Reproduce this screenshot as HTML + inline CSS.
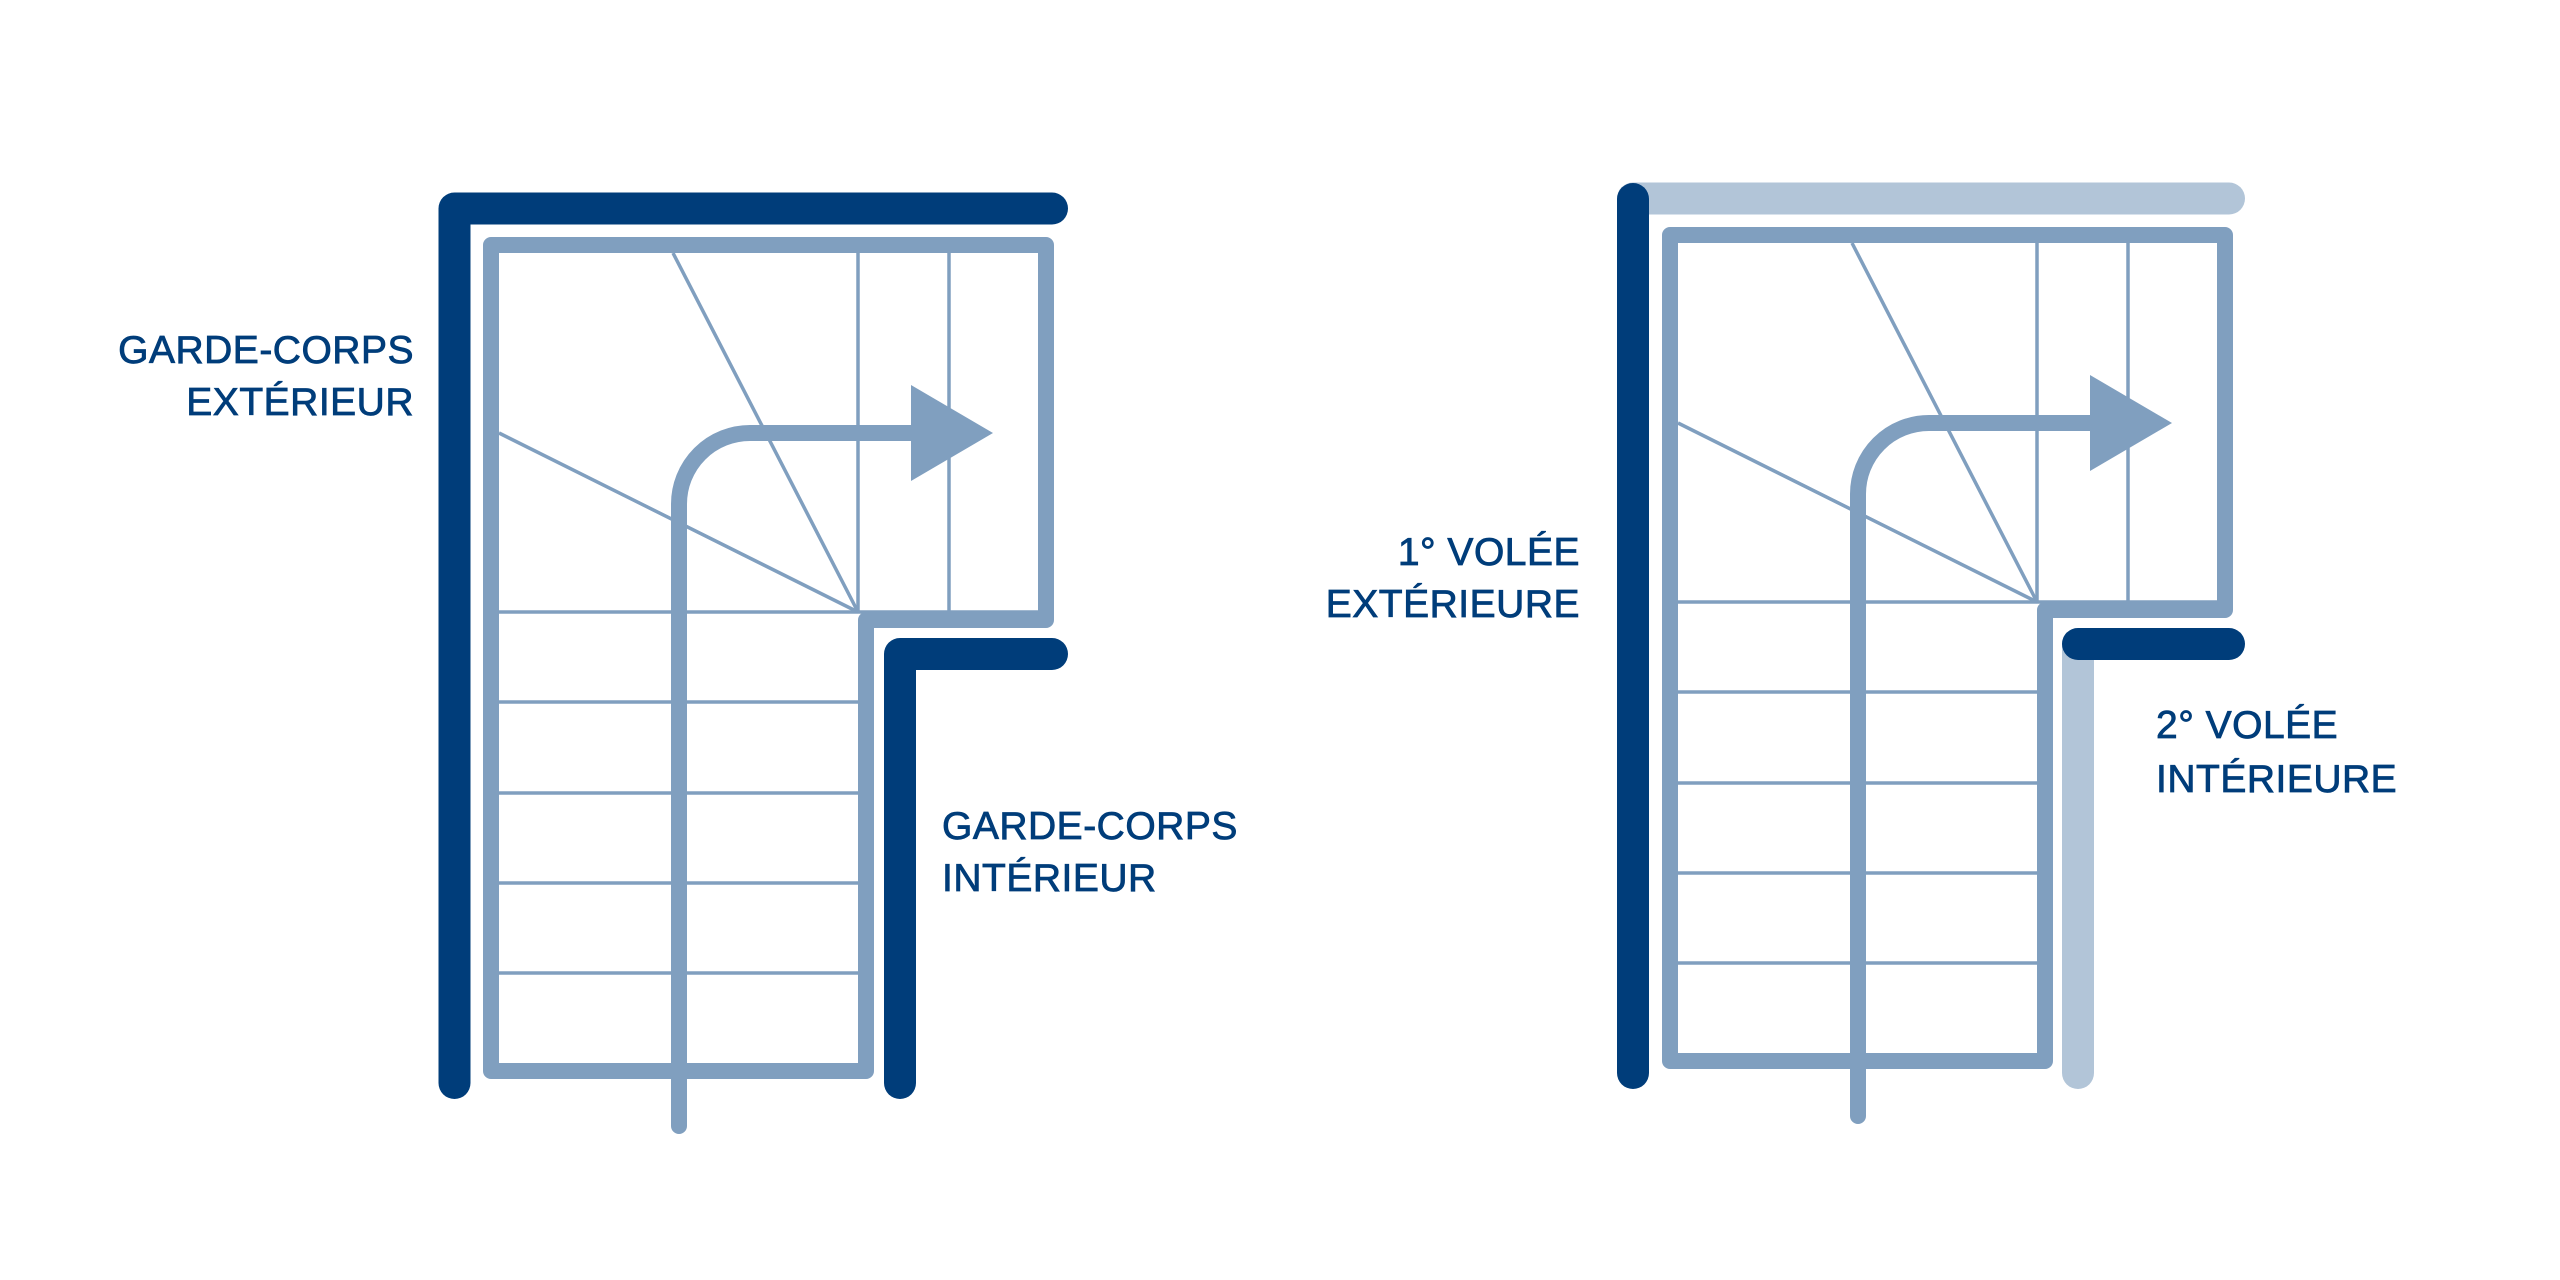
<!DOCTYPE html>
<html><head><meta charset="utf-8"><style>
html,body{margin:0;padding:0;background:#fff;}
svg{display:block}
text{font-family:"Liberation Sans",sans-serif;font-size:39px;fill:#003d7a;stroke:#003d7a;stroke-width:0.8;letter-spacing:0.5px;}
</style></head><body>
<svg width="2560" height="1280" viewBox="0 0 2560 1280" xmlns="http://www.w3.org/2000/svg">
<defs>
<g id="stair">
  <g stroke="#809fbf" stroke-width="3.5" fill="none">
    <line x1="499" y1="612" x2="858" y2="612"/>
    <line x1="499" y1="702" x2="858" y2="702"/>
    <line x1="499" y1="793" x2="858" y2="793"/>
    <line x1="499" y1="883" x2="858" y2="883"/>
    <line x1="499" y1="973" x2="858" y2="973"/>
    <line x1="858" y1="253" x2="858" y2="612"/>
    <line x1="949" y1="253" x2="949" y2="612"/>
    <line x1="858" y1="612" x2="1038" y2="612"/>
    <line x1="858" y1="612" x2="499" y2="433"/>
    <line x1="858" y1="612" x2="673" y2="253"/>
  </g>
  <path d="M491,245 H1046 V620 H866 V1071 H491 Z" stroke="#809fbf" stroke-width="16" fill="none" stroke-linejoin="round"/>
  <path d="M679,1126 V504 A71,71 0 0 1 750,433 H915" stroke="#809fbf" stroke-width="16" fill="none" stroke-linecap="round"/>
  <polygon points="911,385 993,433 911,481" fill="#809fbf"/>
</g>
</defs>

<use href="#stair"/>
<path d="M454.5,1083 V208.5 H1052" stroke="#003d7a" stroke-width="32" fill="none" stroke-linecap="round" stroke-linejoin="round"/>
<path d="M900,1083 V654 H1052" stroke="#003d7a" stroke-width="32" fill="none" stroke-linecap="round" stroke-linejoin="round"/>
<text x="414" y="363" text-anchor="end">GARDE-CORPS</text>
<text x="414" y="415" text-anchor="end">EXTÉRIEUR</text>
<text x="942" y="839">GARDE-CORPS</text>
<text x="942" y="891">INTÉRIEUR</text>

<path d="M1633,198.5 H2229" stroke="#b2c5d8" stroke-width="32" fill="none" stroke-linecap="round"/>
<path d="M2078,1073 V644" stroke="#b2c5d8" stroke-width="32" fill="none" stroke-linecap="round"/>
<use href="#stair" transform="translate(1179,-10)"/>
<path d="M1633,1073 V199" stroke="#003d7a" stroke-width="32" fill="none" stroke-linecap="round"/>
<path d="M2078,644 H2229" stroke="#003d7a" stroke-width="32" fill="none" stroke-linecap="round"/>
<text x="1580" y="565" text-anchor="end">1° VOLÉE</text>
<text x="1580" y="617" text-anchor="end">EXTÉRIEURE</text>
<text x="2156" y="738">2° VOLÉE</text>
<text x="2156" y="792">INTÉRIEURE</text>
</svg>
</body></html>
